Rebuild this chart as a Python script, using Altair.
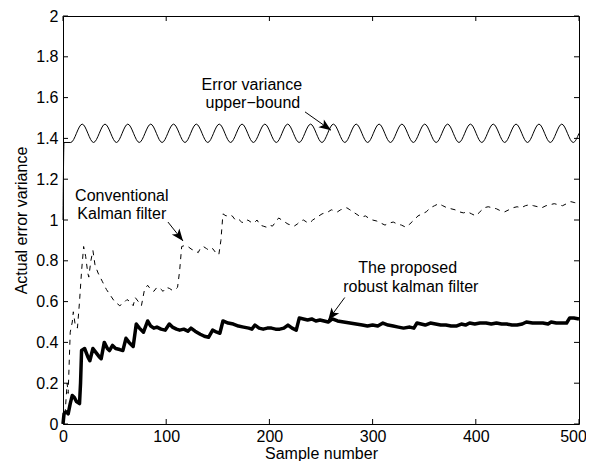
import altair as alt
import pandas as pd

FONT = "Liberation Sans"

# Error variance upper-bound (start, then alternating troughs / peaks)
ub_x = [0, 1, 7.5, 18.6, 29.6, 40.7, 51.8, 62.8, 73.9, 85.0, 96.0, 107.1, 118.2, 129.2,
        140.3, 151.4, 162.4, 173.5, 184.5, 195.6, 206.7, 217.7, 228.8, 239.9, 250.9,
        262.0, 273.1, 284.1, 295.2, 306.3, 317.3, 328.4, 339.5, 350.5, 361.6, 372.7,
        383.7, 394.8, 405.8, 416.9, 428.0, 439.0, 450.1, 461.2, 472.2, 483.3, 494.4, 500]
ub_y = [1.0, 1.38, 1.38, 1.47, 1.38, 1.47, 1.38, 1.47, 1.38, 1.47, 1.38, 1.47, 1.38, 1.47,
        1.38, 1.47, 1.38, 1.47, 1.38, 1.47, 1.38, 1.47, 1.38, 1.47, 1.38,
        1.47, 1.38, 1.47, 1.38, 1.47, 1.38, 1.47, 1.38, 1.47, 1.38, 1.47,
        1.38, 1.47, 1.38, 1.47, 1.38, 1.47, 1.38, 1.47, 1.38, 1.47, 1.38, 1.425]

# Conventional Kalman filter (dashed)
conv_x = [0, 2, 4, 5, 7, 9, 10, 12, 14, 16, 18, 20, 22, 24, 25, 27, 29, 31, 34, 38, 42, 46,
          50, 55, 58, 62, 65, 68, 70, 73, 76, 79, 82, 85, 88, 91, 94, 97, 100, 103, 106, 109,
          111, 113, 115, 118, 121, 125, 128, 131, 133, 136, 139, 142, 145, 148, 151, 153, 155,
          158, 161, 164, 167, 170, 173, 176, 179, 182, 185, 188, 191, 194, 197, 200, 203, 206,
          209, 212, 215, 218, 221, 224, 227, 230, 233, 236, 239, 242, 245, 248, 251, 254, 257,
          260, 263, 266, 269, 272, 275, 278, 281, 284, 287, 290, 293, 296, 300, 304, 308, 312,
          316, 320, 324, 328, 332, 336, 340, 344, 348, 352, 356, 360, 364, 368, 372, 376, 380,
          384, 388, 392, 396, 400, 404, 408, 412, 416, 420, 424, 428, 432, 436, 440, 444, 448,
          452, 456, 460, 464, 468, 472, 476, 480, 484, 488, 492, 496, 500]
conv_y = [0.0, 0.05, 0.2, 0.15, 0.45, 0.5, 0.55, 0.48, 0.47, 0.6, 0.75, 0.87, 0.82, 0.74, 0.72,
          0.8, 0.85, 0.78, 0.74, 0.70, 0.66, 0.63, 0.60, 0.58, 0.59, 0.61, 0.60, 0.58, 0.62,
          0.60, 0.58, 0.66, 0.68, 0.66, 0.65, 0.67, 0.665, 0.65, 0.67, 0.665, 0.655, 0.66, 0.67,
          0.75, 0.87, 0.875, 0.87, 0.855, 0.85, 0.84, 0.86, 0.87, 0.86, 0.85, 0.86, 0.84, 0.83,
          0.9, 1.03, 1.02, 1.025, 1.02, 1.0, 1.005, 0.99, 0.985, 1.0, 0.99, 0.985, 1.0, 0.975,
          0.97, 0.965, 0.975, 0.97, 0.99, 1.01, 1.0, 0.99, 0.98, 0.975, 0.97, 0.98, 0.995, 1.0,
          0.99, 0.985, 1.0, 1.01, 1.02, 1.03, 1.035, 1.04, 1.05, 1.045, 1.04, 1.05, 1.055, 1.06,
          1.05, 1.04, 1.03, 1.02, 1.015, 1.02, 1.01, 1.0, 0.995, 0.985, 0.975, 0.985, 0.99,
          0.98, 0.975, 0.965, 0.98, 1.0, 1.02, 1.03, 1.04, 1.06, 1.07, 1.08, 1.07, 1.06, 1.055,
          1.05, 1.04, 1.035, 1.04, 1.03, 1.02, 1.04, 1.06, 1.065, 1.06, 1.055, 1.045, 1.04,
          1.05, 1.06, 1.065, 1.06, 1.07, 1.075, 1.07, 1.065, 1.06, 1.07, 1.075, 1.08, 1.075,
          1.07, 1.08, 1.09, 1.085, 1.08]

# Proposed robust Kalman filter (thick)
rob_x = [0, 1, 3, 5, 7, 9, 11, 13, 16, 17, 18, 21, 24, 26, 29, 32, 35, 37, 40, 43, 45, 48, 51,
         55, 58, 61, 64, 68, 71, 74, 78, 82, 85, 88, 91, 95, 99, 103, 106, 110, 113, 117, 121,
         124, 128, 133, 137, 141, 145, 149, 152, 155, 160, 165, 170, 175, 180, 183, 186, 190,
         194, 198, 202, 206, 210, 214, 218, 222, 226, 229, 233, 237, 241, 245, 249, 253, 257,
         261, 266, 272, 278, 284, 290, 295, 300, 305, 310, 315, 320, 325, 330, 336, 340, 343,
         347, 351, 356, 361, 366, 371, 376, 381, 386, 390, 394, 399, 404, 410, 415, 420, 425,
         430, 435, 440, 445, 449, 455, 460, 465, 470, 473, 478, 483, 488, 491, 495, 500]
rob_y = [0.0, 0.05, 0.06, 0.05, 0.1, 0.14, 0.13, 0.11, 0.10, 0.2, 0.36, 0.37, 0.33, 0.31,
         0.37, 0.35, 0.33, 0.32, 0.40, 0.37, 0.36, 0.385, 0.37, 0.365, 0.36, 0.42, 0.40, 0.38,
         0.49, 0.47, 0.45, 0.505, 0.48, 0.47, 0.475, 0.465, 0.46, 0.49, 0.475, 0.465, 0.46,
         0.465, 0.455, 0.47, 0.455, 0.44, 0.43, 0.425, 0.46, 0.45, 0.445, 0.505, 0.495, 0.49,
         0.48, 0.475, 0.47, 0.465, 0.485, 0.47, 0.465, 0.47, 0.47, 0.465, 0.465, 0.47, 0.485,
         0.47, 0.46, 0.52, 0.515, 0.51, 0.515, 0.505, 0.51, 0.505, 0.50, 0.515, 0.505, 0.50,
         0.495, 0.49, 0.485, 0.48, 0.485, 0.48, 0.495, 0.485, 0.48, 0.475, 0.47, 0.475, 0.47,
         0.495, 0.49, 0.485, 0.495, 0.49, 0.485, 0.485, 0.48, 0.48, 0.49, 0.485, 0.495, 0.49,
         0.495, 0.495, 0.49, 0.495, 0.49, 0.49, 0.485, 0.485, 0.49, 0.50, 0.495, 0.495, 0.495,
         0.49, 0.5, 0.495, 0.495, 0.495, 0.52, 0.52, 0.515]

x_ticks = [0, 100, 200, 300, 400, 500]
y_ticks = [0, 0.2, 0.4, 0.6, 0.8, 1.0, 1.2, 1.4, 1.6, 1.8, 2.0]

ann_text = ["Error variance", "upper\u2212bound", "Conventional", "Kalman filter",
            "The proposed", "robust kalman filter"]
ann_x = [183, 184, 57, 57, 334, 337]
ann_y = [1.662, 1.574, 1.12, 1.03, 0.765, 0.672]

arrow_x0 = [234.5, 101.7, 273]
arrow_y0 = [1.53, 0.99, 0.62]
arrow_x1 = [259.7, 116.3, 257]
arrow_y1 = [1.44, 0.897, 0.51]
arrow_angle = [124.7, 141.7, 216.5]

W, H = 516, 408

xs = alt.Scale(domain=[0, 500], nice=False, zero=False)
ys = alt.Scale(domain=[0, 2], nice=False, zero=False)
X = alt.X("x:Q", scale=xs, axis=alt.Axis(values=x_ticks, title="Sample number",
                                          labelPadding=4, labelFlush=False,
                                          labelOffset={"expr": "datum.value == 500 ? -6 : 0"},
                                          titleY=34, titleBaseline="alphabetic"))
Y = alt.Y("y:Q", scale=ys, axis=alt.Axis(values=y_ticks, format="~g",
                                          title="Actual error variance",
                                          labelPadding=5, titleX=-42, titleY=H / 2,
                                          titleBaseline="middle", titleAlign="center"))

ub_df = pd.DataFrame({"x": ub_x, "y": ub_y})
conv_df = pd.DataFrame({"x": conv_x, "y": conv_y})
rob_df = pd.DataFrame({"x": rob_x, "y": rob_y})
ann_df = pd.DataFrame({"x": ann_x, "y": ann_y, "t": ann_text})
arr_df = pd.DataFrame({"x": arrow_x0, "y": arrow_y0, "x2": arrow_x1, "y2": arrow_y1})
head_df = pd.DataFrame({"x": arrow_x1, "y": arrow_y1, "a": arrow_angle})
xt_df = pd.DataFrame({"x": x_ticks})
yt_df = pd.DataFrame({"y": y_ticks})

ub = alt.Chart(ub_df).mark_line(color="black", strokeWidth=1, interpolate="monotone").encode(x=X, y=Y)
conv = alt.Chart(conv_df).mark_line(color="black", strokeWidth=1, strokeDash=[5, 5]).encode(x=X, y=Y)
rob = alt.Chart(rob_df).mark_line(color="black", strokeWidth=3.5, strokeJoin="round").encode(x=X, y=Y)

ann = alt.Chart(ann_df).mark_text(font=FONT, fontSize=16, color="black", align="center",
                                  baseline="middle").encode(x=X, y=Y, text="t:N")
shaft = alt.Chart(arr_df).mark_rule(color="black", strokeWidth=1).encode(
    x=X, y=Y, x2="x2:Q", y2="y2:Q")
heads = alt.Chart(head_df).mark_point(
    shape="M0,0L-0.8,2L0,1.5L0.8,2Z", filled=True, color="black", opacity=1, size=144
).encode(x=X, y=Y, angle=alt.Angle("a:Q", scale=None))

tb = alt.Chart(xt_df).mark_rule(color="black", strokeWidth=1).encode(
    x=X, y=alt.value(H), y2=alt.value(H - 5))
tt = alt.Chart(xt_df).mark_rule(color="black", strokeWidth=1).encode(
    x=X, y=alt.value(0), y2=alt.value(5))
tl = alt.Chart(yt_df).mark_rule(color="black", strokeWidth=1).encode(
    y=Y, x=alt.value(0), x2=alt.value(5))
tr = alt.Chart(yt_df).mark_rule(color="black", strokeWidth=1).encode(
    y=Y, x=alt.value(W), x2=alt.value(W - 5))

chart = alt.layer(ub, conv, rob, shaft, heads, ann, tb, tt, tl, tr).properties(
    width=W, height=H,
    autosize=alt.AutoSizeParams(type="none"),
    padding={"left": 55, "top": 8, "right": 7, "bottom": 37},
).configure_view(stroke="black", strokeWidth=1).configure_axis(
    grid=False, domain=False, ticks=False,
    labelFont=FONT, labelFontSize=16, labelColor="black",
    titleFont=FONT, titleFontSize=16, titleFontWeight="normal", titleColor="black",
)

chart.save("out.html", embed_options={"renderer": "svg", "actions": False})
